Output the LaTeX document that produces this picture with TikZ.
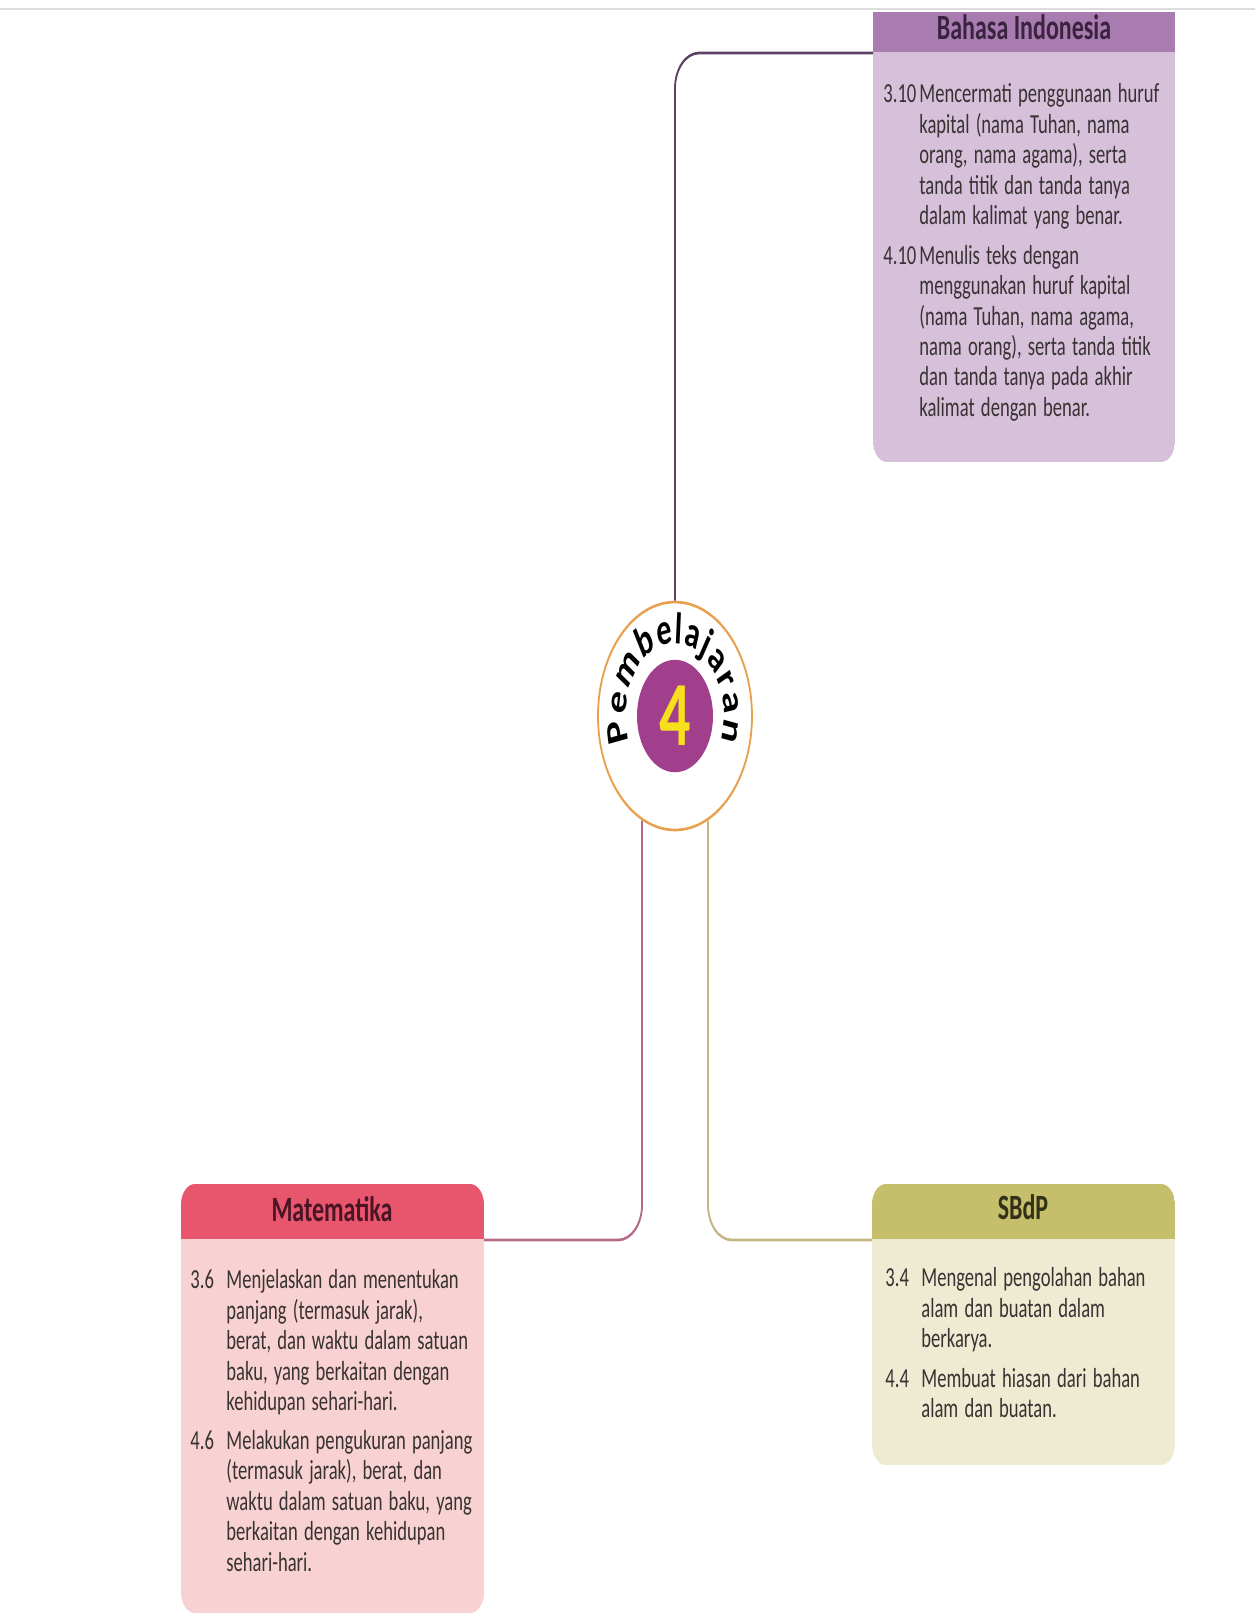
\documentclass[tikz,border=0pt]{standalone}
\usepackage{fontspec}
\setmainfont{Carlito}
\usetikzlibrary{decorations.text}

\definecolor{rulegray}{HTML}{DDDDDD}
\definecolor{bodytext}{HTML}{383232}
\definecolor{bahasahead}{HTML}{A87CB0}
\definecolor{bahasabody}{HTML}{D6C0DA}
\definecolor{bahasaline}{HTML}{5E3F66}
\definecolor{bahasatitle}{HTML}{3B2340}
\definecolor{mathead}{HTML}{E8566E}
\definecolor{matbody}{HTML}{F8D2D2}
\definecolor{matline}{HTML}{B5698A}
\definecolor{mattitle}{HTML}{4A1525}
\definecolor{sbdphead}{HTML}{C5BE6B}
\definecolor{sbdpbody}{HTML}{EEEBD2}
\definecolor{sbdpline}{HTML}{C4B583}
\definecolor{sbdptitle}{HTML}{33301A}
\definecolor{ringorange}{HTML}{E9A04E}
\definecolor{corepurple}{HTML}{A23F8C}
\definecolor{fouryellow}{HTML}{F7DF1E}

\newcommand\emblemfont{\fontsize{15}{15}\selectfont\bfseries}
\newcommand\kd[2]{\hangindent=18pt\hangafter=1\noindent\makebox[18pt][l]{#1}#2\par}

\tikzset{
  headtext/.style={font=\fontsize{12}{14}\selectfont\bfseries, inner sep=0},
  kdtext/.style={font=\fontsize{9.3}{10.3}\selectfont, text=bodytext, text width=150pt,
    inner sep=0, anchor=north west},
  link/.style={line width=0.9pt, rounded corners=12pt},
  emblem/.style={circle, minimum size=77pt, inner sep=0, draw=ringorange, line width=0.9pt, fill=white}
}

\begin{document}
\begin{tikzpicture}[x=0.5pt, y=0.5pt]
\fill[white] (0,0) rectangle (1255,-1624);
\useasboundingbox (0,0) rectangle (1255,-1624);
\coordinate (rulestart) at (0,-9);
\coordinate (ruleend) at (1255,-9);
\draw[rulegray, line width=1pt] (rulestart) -- (ruleend);

% the page is stretched vertically
\begin{scope}[transform canvas={yscale=1.48}, y=0.33784pt]

% Bahasa Indonesia
\begin{scope}
\clip[rounded corners=7pt] (873,18) rectangle (1175,-462);
\fill[bahasabody] (873,-12) rectangle (1175,-462);
\fill[bahasahead] (873,-12) rectangle (1175,-52);
\end{scope}
\node[headtext, text=bahasatitle] (bahasatitle) at (1024,-27) {Bahasa Indonesia};
\node[kdtext] (bahasatext) at (883,-83) {%
\kd{3.10}{Mencermati penggunaan huruf\newline kapital (nama Tuhan, nama\newline orang, nama agama), serta\newline tanda titik dan tanda tanya\newline dalam kalimat yang benar.}
\vspace{3pt}
\kd{4.10}{Menulis teks dengan\newline menggunakan huruf kapital\newline (nama Tuhan, nama agama,\newline nama orang), serta tanda titik\newline dan tanda tanya pada akhir\newline kalimat dengan benar.}};

% Matematika
\begin{scope}
\clip[rounded corners=7pt] (181,-1184) rectangle (484,-1613);
\fill[matbody] (181,-1184) rectangle (484,-1613);
\fill[mathead] (181,-1184) rectangle (484,-1239);
\end{scope}
\node[headtext, text=mattitle] (mattitle) at (332,-1209) {Matematika};
\node[kdtext] (mattext) at (190,-1269) {%
\kd{3.6}{Menjelaskan dan menentukan\newline panjang (termasuk jarak),\newline berat, dan waktu dalam satuan\newline baku, yang berkaitan dengan\newline kehidupan sehari-hari.}
\vspace{2.8pt}
\kd{4.6}{Melakukan pengukuran panjang\newline (termasuk jarak), berat, dan\newline waktu dalam satuan baku, yang\newline berkaitan dengan kehidupan\newline sehari-hari.}};

% SBdP
\begin{scope}
\clip[rounded corners=7pt] (872,-1184) rectangle (1175,-1465);
\fill[sbdpbody] (872,-1184) rectangle (1175,-1465);
\fill[sbdphead] (872,-1184) rectangle (1175,-1239);
\end{scope}
\node[headtext, text=sbdptitle] (sbdptitle) at (1023,-1207) {SBdP};
\node[kdtext] (sbdptext) at (885,-1267) {%
\kd{3.4}{Mengenal pengolahan bahan\newline alam dan buatan dalam\newline berkarya.}
\vspace{3pt}
\kd{4.4}{Membuat hiasan dari bahan\newline alam dan buatan.}};

% centre
\coordinate (bahasalink) at (873,-53);
\coordinate (matlink) at (484,-1240);
\coordinate (sbdplink) at (872,-1240);
\node[emblem] (emblem) at (675,-716) {};
\draw[link, bahasaline] (emblem.north) |- (bahasalink);
\draw[link, matline] (emblem.245) |- (matlink);
\draw[link, sbdpline] (emblem.295) |- (sbdplink);
\node[circle, minimum size=38pt, inner sep=0, fill=corepurple] (core) at (emblem) {};
\node[font=\fontsize{31}{31}\selectfont\bfseries, text=fouryellow, inner sep=0] (four) at (core) {4};
\path[decorate, decoration={text along path, text align=fit to path,
  text={|\emblemfont|Pembelajaran}}]
  ([shift={(200:49 and 72.5)}]emblem.center) arc[start angle=200, end angle=-20, x radius=49, y radius=72.5];

\end{scope}
\end{tikzpicture}
\end{document}
